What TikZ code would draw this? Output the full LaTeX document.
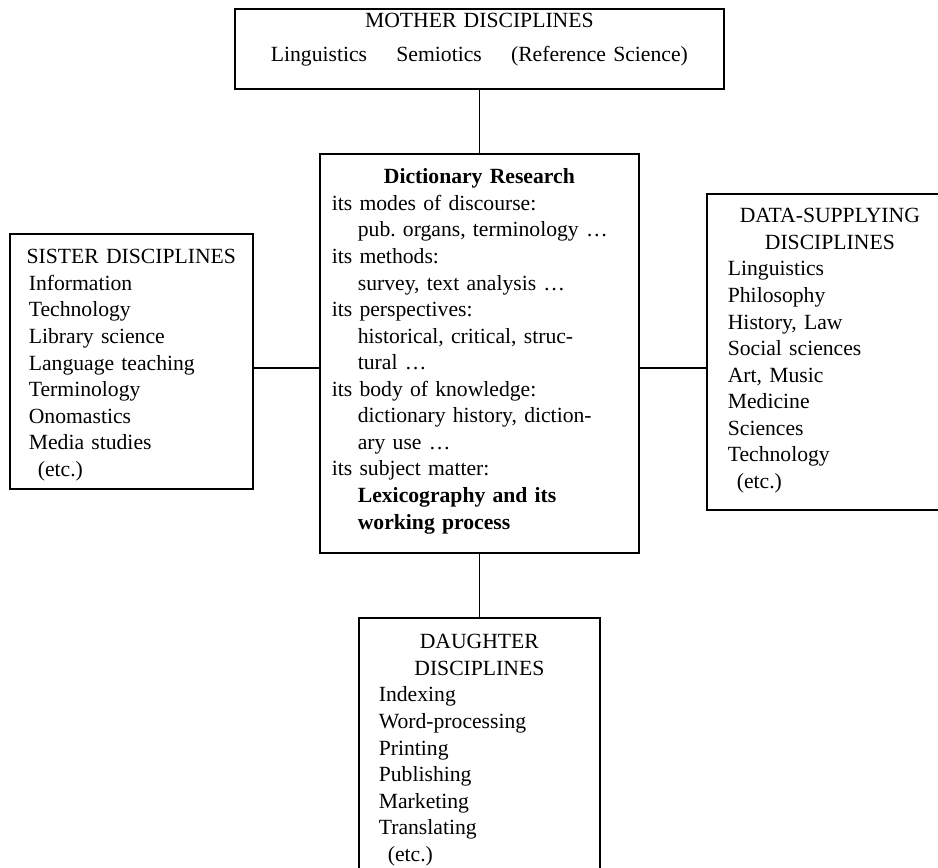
\documentclass[tikz,border=0pt]{standalone}
\usepackage{fontspec}
\setmainfont{Liberation Serif}
\usetikzlibrary{calc}
\newlength\pu
\setlength\pu{0.531pt}
\newcommand\subln{\hspace*{26\pu}}
\newcommand\etcln{\hspace*{9\pu}(etc.)}
\newcommand\headln[1]{\makebox[\linewidth]{#1}}
\frenchspacing
\tikzset{
  discbox/.style={draw, line width=0.9pt, anchor=north west, inner ysep=0pt,
    align=left, font=\fontsize{11.5}{14.1}\selectfont},
  link/.style={line width=0.9pt}
}

\begin{document}
\begin{tikzpicture}[x=\pu, y=-\pu]
		%%%%% START %%%%%
		\useasboundingbox (0, 0) rectangle (938, 867);
		\clip (0, 0) rectangle (938, 867);
		
		\node[discbox, align=center, inner xsep=0pt, text width=489\pu, text height=19\pu, text depth=61\pu] (mother) at (234, 8)
		{MOTHER DISCIPLINES\\[7.4\pu]
		Linguistics\hspace{1.35em}Semiotics\hspace{1.35em}(Reference Science)};
		
		\node[discbox, inner xsep=12\pu, text width=295\pu, text height=30\pu, text depth=369\pu] (hub) at (319, 153)
		{\headln{\textbf{Dictionary Research}}\\
		its modes of discourse:\\
		\subln pub. organs, terminology …\\
		its methods:\\
		\subln survey, text analysis …\\
		its perspectives:\\
		\subln historical, critical, struc-\\
		\subln tural …\\
		its body of knowledge:\\
		\subln dictionary history, diction-\\
		\subln ary use …\\
		its subject matter:\\
		\subln\textbf{Lexicography and its}\\
		\subln\textbf{working process}};
		
		\node[discbox, inner xsep=19\pu, text width=205\pu, text height=30\pu, text depth=225\pu] (sister) at (9, 233)
		{\headln{SISTER DISCIPLINES}\\
		Information\\ Technology\\ Library science\\ Language teaching\\
		Terminology\\ Onomastics\\ Media studies\\ \etcln};
		
		\node[discbox, inner xsep=21\pu, text width=204\pu, text height=29\pu, text depth=287\pu] (datasup) at (706, 193)
		{\headln{DATA-SUPPLYING}\\ \headln{DISCIPLINES}\\
		Linguistics\\ Philosophy\\ History, Law\\ Social sciences\\
		Art, Music\\ Medicine\\ Sciences\\ Technology\\ \etcln};
		
		\node[discbox, inner xsep=20\pu, text width=201\pu, text height=31\pu, text depth=232\pu] (daughter) at (358, 617)
		{\headln{DAUGHTER}\\ \headln{DISCIPLINES}\\
		Indexing\\ Word-processing\\ Printing\\ Publishing\\
		Marketing\\ Translating\\ \etcln};
		
		\coordinate (joint) at (479, 368);
		
		\draw[link] (mother) -- (hub);
		\draw[link] (hub) -- (daughter);
		\draw[link] (sister.east |- joint) -- (hub.west |- joint);
		\draw[link] (hub.east |- joint) -- (datasup.west |- joint);
		
		%%%%% END %%%%%
	\end{tikzpicture}
\end{document}
